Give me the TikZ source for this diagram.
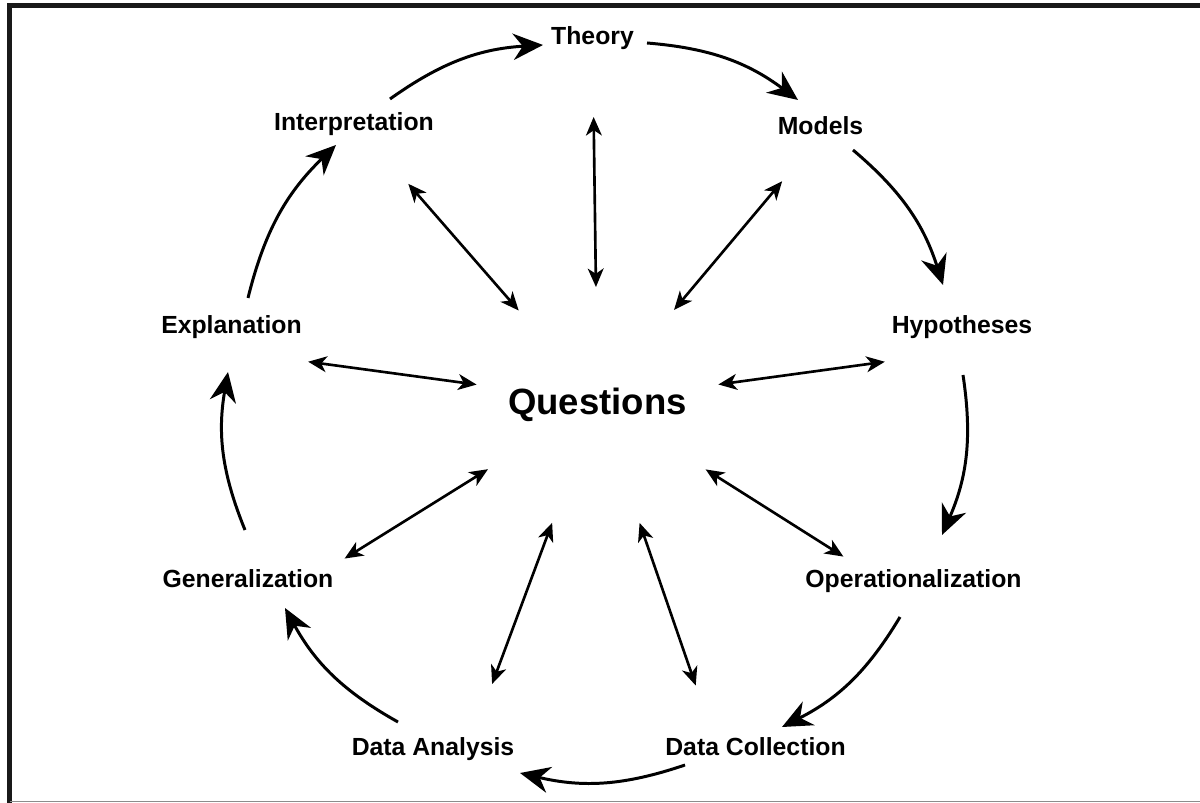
\documentclass[tikz,border=0pt]{standalone}
\usepackage{fontspec}
\setmainfont{Liberation Sans}
\usetikzlibrary{%
	positioning,
	calc,
	arrows.meta
}

\begin{document}
\begin{tikzpicture}[
		SStage/.style={font=\fontsize{14.1}{17}\selectfont\bfseries,text height=10.1pt,text depth=0pt,inner sep=0pt},
		SQuestion/.style={font=\fontsize{20.8}{25}\selectfont\bfseries,text height=14.9pt,text depth=0pt,inner sep=0pt},
		cycleArrow/.style={line width=1.7pt,-{Stealth[length=17pt,width=15pt,inset=5.5pt]}},
		linkArrow/.style={line width=1.5pt,{Stealth[length=10.5pt,width=9pt,inset=3pt]}-{Stealth[length=10.5pt,width=9pt,inset=3pt]}},
		outside/.style={line width=2.8pt,black!90}
	]
	\useasboundingbox (0,0) rectangle (24,16.06);
	
	%frame
	\draw[outside] (24,15.95) -- (0.19,15.95) -- (0.19,0);
	\draw[black!45,line width=0.8pt] (0.19,0.03) -- (24,0.03);
	
	%questions
	\node(q) [SQuestion] at (11.95,8.04) {Questions};
	
	%stages
	\node(theory) [SStage, above left=7.30cm and 0.10cm of q.center, anchor=center] {Theory};
	\node(models) [SStage, above right=5.50cm and 4.46cm of q.center, anchor=center] {Models};
	\node(hyp) [SStage, above right=1.52cm and 7.29cm of q.center, anchor=center] {Hypotheses};
	\node(op) [SStage, below right=3.55cm and 6.32cm of q.center, anchor=center] {Operationalization};
	\node(dc) [SStage, below right=6.92cm and 3.16cm of q.center, anchor=center] {Data Collection};
	\node(da) [SStage, below left=6.92cm and 3.29cm of q.center, anchor=center] {Data Analysis};
	\node(gen) [SStage, below left=3.55cm and 6.99cm of q.center, anchor=center] {Generalization};
	\node(expl) [SStage, above left=1.52cm and 7.32cm of q.center, anchor=center] {Explanation};
	\node(interp) [SStage, above left=5.59cm and 4.87cm of q.center, anchor=center] {Interpretation};
	
	%cycle
	\draw[cycleArrow] ([shift={(0.72,0.45)}]interp.center) to[bend left=16] ([shift={(-0.99,-0.18)}]theory.center);
	\draw[cycleArrow] ([shift={(1.09,-0.14)}]theory.center) to[bend left=16] ([shift={(-0.45,0.52)}]models.center);
	\draw[cycleArrow] ([shift={(0.65,-0.48)}]models.center) to[bend left=16] ([shift={(-0.38,0.80)}]hyp.center);
	\draw[cycleArrow] ([shift={(0.02,-1.00)}]hyp.center) to[bend left=16] ([shift={(0.57,0.87)}]op.center);
	\draw[cycleArrow] ([shift={(-0.27,-0.77)}]op.center) to[bend left=16] ([shift={(0.53,0.40)}]dc.center);
	\draw[cycleArrow] ([shift={(-1.41,-0.36)}]dc.center) to[bend left=16] ([shift={(1.74,-0.52)}]da.center);
	\draw[cycleArrow] ([shift={(-0.70,0.50)}]da.center) to[bend left=16] ([shift={(0.74,-0.59)}]gen.center);
	\draw[cycleArrow] ([shift={(-0.06,0.97)}]gen.center) to[bend left=16] ([shift={(-0.07,-0.94)}]expl.center);
	\draw[cycleArrow] ([shift={(0.33,0.54)}]expl.center) to[bend left=16] ([shift={(-0.36,-0.47)}]interp.center);
	
	%links to questions
	\foreach \stg/\tw/\rin/\rout in {theory/0/2.28/5.68, interp/0/2.40/5.76, models/-1/2.38/5.74, expl/4/2.44/5.84, hyp/-4/2.44/5.80, gen/5/2.58/5.96, op/-3/2.56/5.82, da/5/2.60/6.04, dc/-5.5/2.58/6.02}
		\draw[linkArrow] ($(q)!\rin cm!\tw:(\stg)$) -- ($(q)!\rout cm!\tw:(\stg)$);
	
\end{tikzpicture}
\end{document}
